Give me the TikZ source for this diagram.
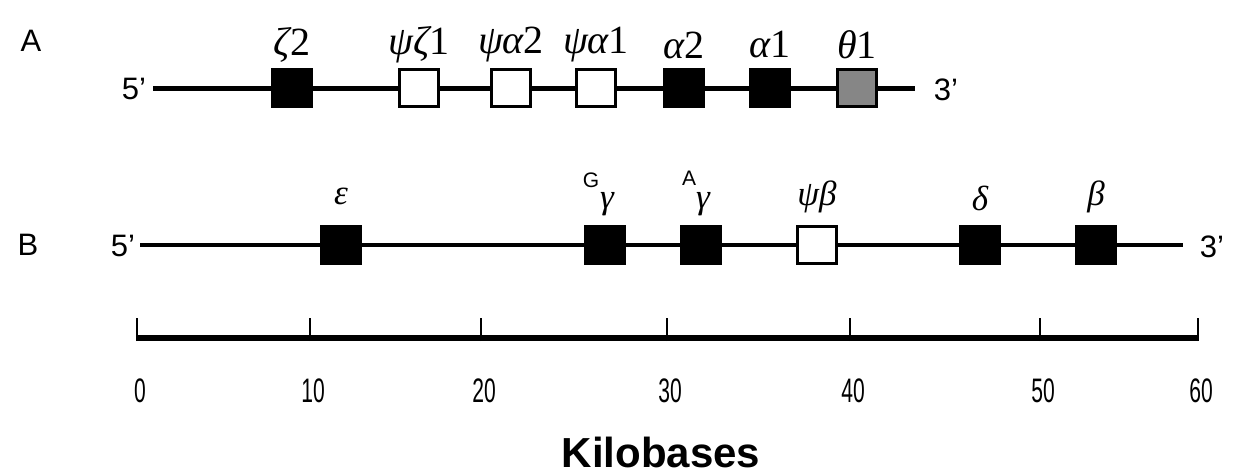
\documentclass[tikz,border=0pt]{standalone}
\usepackage{fontspec}
\setmainfont{Liberation Sans}
\newfontfamily\gkfont{Liberation Serif}
\newcommand{\gk}[1]{{\gkfont\itshape #1}}
\tikzset{
  gene/.style={draw=black, line width=2.5pt, minimum width=39pt, minimum height=37pt, inner sep=0pt},
  filled/.style={gene, fill=black},
  pseudo/.style={gene, fill=white},
  theta/.style={gene, fill=gray!95},
  dna/.style={line width=5pt},
  glabel/.style={font=\gkfont\fontsize{40}{44}\selectfont, inner sep=0pt},
  blabel/.style={font=\gkfont\fontsize{35}{40}\selectfont, inner sep=0pt},
  end/.style={font=\fontsize{31}{34}\selectfont, inner sep=0pt},
  panel/.style={font=\fontsize{31}{34}\selectfont, inner sep=0pt},
  tick/.style={line width=1.6pt},
  ticklabel/.style={font=\fontsize{34}{36}\selectfont, inner sep=0pt},
  sup/.style={font=\fontsize{21}{24}\selectfont, inner sep=0pt}
}
\begin{document}
\begin{tikzpicture}[x=1pt,y=-1pt]
\useasboundingbox[fill=white] (0,0) rectangle (1237,474);
% Panel A
\node[panel] (pA) at (31,41) {A};
\node[end] (a5) at (134,89) {5'};
\node[end] (a3) at (946,90) {3'};
\coordinate (aS) at (153,88);
\coordinate (aE) at (915,88);
\draw[dna] (aS) -- (aE);
\node[filled] (z2) at (292,88) {};
\node[pseudo] (pz1) at (419,88) {};
\node[pseudo] (pa2) at (511,88) {};
\node[pseudo] (pa1) at (596,88) {};
\node[filled] (a2) at (684,88) {};
\node[filled] (a1) at (770,88) {};
\node[theta] (t1) at (857,88) {};
\node[glabel] (lz2) at (292,45) {\gk{ζ}2};
\node[glabel] (lpz1) at (419,45) {\gk{ψζ}1};
\node[glabel] (lpa2) at (511,45) {\gk{ψα}2};
\node[glabel] (lpa1) at (596,45) {\gk{ψα}1};
\node[glabel] (la2) at (684,45) {\gk{α}2};
\node[glabel] (la1) at (770,45) {\gk{α}1};
\node[glabel] (lt1) at (857,45) {\gk{θ}1};
% Panel B
\node[panel] (pB) at (28,245) {B};
\node[end] (b5) at (123,246) {5'};
\node[end] (b3) at (1212,247) {3'};
\coordinate (bS) at (140,245);
\coordinate (bE) at (1183,245);
\draw[dna, line width=4pt] (bS) -- (bE);
\node[filled] (eps) at (341,245) {};
\node[filled] (gg) at (605,245) {};
\node[filled] (ag) at (701,245) {};
\node[pseudo] (pb) at (817,245) {};
\node[filled] (del) at (980,245) {};
\node[filled] (bet) at (1096,245) {};
\node[blabel] (leps) at (341,196) {\gk{ε}};
\node[blabel] (lgg) at (607,204) {\gk{γ}};
\node[sup] (sG) at (591,180) {G};
\node[blabel] (lag) at (703,204) {\gk{γ}};
\node[sup] (sA) at (689,178) {A};
\node[blabel] (lpb) at (817,197) {\gk{ψβ}};
\node[blabel] (ldel) at (980,198) {\gk{δ}};
\node[blabel] (lbet) at (1096,197) {\gk{β}};
% Scale bar
\coordinate (s0) at (137,338);
\coordinate (s60) at (1198,338);
\draw[line width=6pt] (s0) -- (s60);
\foreach \x/\v in {137/0,310/10,481/20,667/30,850/40,1040/50,1198/60}{
  \draw[tick] (\x,341) -- (\x,318);
  \node[ticklabel] at (\x+3,391) {\scalebox{0.62}[1]{\v}};
}
\node[font=\fontsize{42}{46}\selectfont\bfseries, inner sep=0pt] (kb) at (661,452) {Kilobases};
\end{tikzpicture}
\end{document}
